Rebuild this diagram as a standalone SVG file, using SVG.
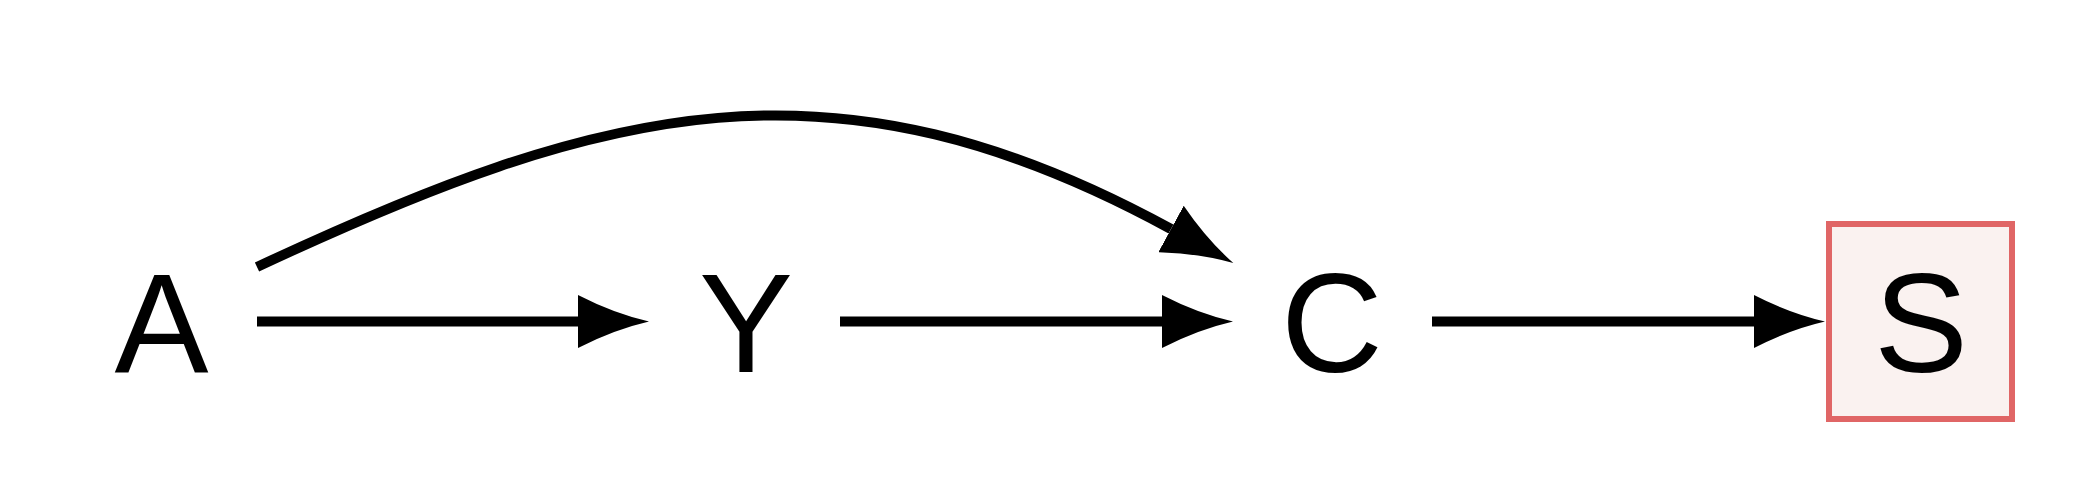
<svg xmlns="http://www.w3.org/2000/svg" width="2084" height="492" viewBox="0 0 2084 492">
<style>
.lbl{font-family:"Liberation Sans",Arial,Helvetica,sans-serif;font-size:141px;fill:#000;text-anchor:middle}
.edge{fill:none;stroke:#000;stroke-width:10;stroke-linecap:butt}
</style>
<defs>
<marker id="ah" viewBox="0 0 71 53" refX="0" refY="26.5" markerWidth="71" markerHeight="53" markerUnits="userSpaceOnUse" orient="auto">
<path d="M0,0 Q36,18.5 71,26.5 Q36,34.5 0,53 Z" fill="#000"/>
</marker>
</defs>
<rect width="2084" height="492" fill="#fff"/>
<g id="connectors">
<path class="edge" d="M257,321.5 H578" marker-end="url(#ah)"/>
<path class="edge" d="M840,321.5 H1162" marker-end="url(#ah)"/>
<path class="edge" d="M1432,321.5 H1754" marker-end="url(#ah)"/>
<path class="edge" d="M257,267 C605,104 834,45 1171,229" marker-end="url(#ah)"/>
</g>
<g id="node-A"><text class="lbl" x="161.5" y="372">A</text></g>
<g id="node-Y"><text class="lbl" x="746" y="372">Y</text></g>
<g id="node-C"><text class="lbl" x="1332" y="372">C</text></g>
<g id="node-S">
<rect x="1829" y="224" width="183" height="195" fill="#FAF2F0" stroke="#E06666" stroke-width="6"/>
<text class="lbl" x="1921" y="372">S</text>
</g>
</svg>
